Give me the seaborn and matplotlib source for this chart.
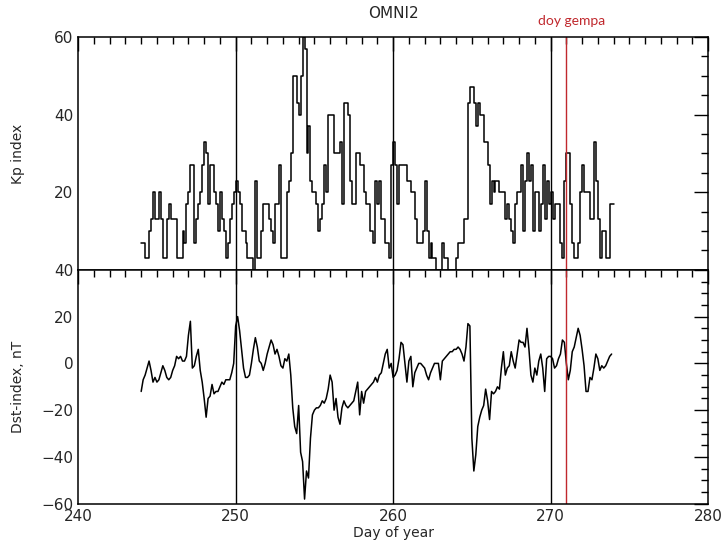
import matplotlib
matplotlib.use("Agg")
import matplotlib.pyplot as plt
from matplotlib.ticker import MultipleLocator, FuncFormatter
import numpy as np
import pandas as pd
import seaborn as sns

# 3-hourly samples, day-of-year 244.0 .. 273.875
DAY_START = 244
PER_DAY = 8

KP = [
    7, 7, 3, 3, 10, 13, 20, 13,        # 244
    13, 20, 13, 3, 3, 13, 17, 13,      # 245
    13, 13, 3, 3, 3, 10, 7, 17,        # 246
    20, 27, 27, 7, 13, 17, 20, 27,     # 247
    33, 30, 17, 27, 27, 20, 17, 10,    # 248
    20, 13, 10, 3, 7, 13, 17, 20,      # 249
    23, 20, 17, 10, 10, 7, 3, 3,       # 250
    3, 0, 23, 3, 3, 10, 17, 17,        # 251
    17, 13, 10, 7, 17, 17, 27, 3,      # 252
    3, 3, 20, 23, 30, 50, 50, 43,      # 253
    40, 50, 60, 57, 30, 37, 23, 20,    # 254
    20, 17, 10, 13, 17, 27, 20, 40,    # 255
    40, 40, 30, 30, 30, 33, 17, 43,    # 256
    43, 40, 23, 17, 17, 30, 30, 27,    # 257
    27, 20, 17, 17, 10, 10, 7, 23,     # 258
    17, 23, 13, 13, 7, 7, 3, 27,       # 259
    33, 27, 17, 27, 27, 27, 27, 23,    # 260
    23, 20, 20, 13, 7, 7, 7, 10,       # 261
    23, 10, 3, 7, 3, 3, 0, 0,          # 262
    0, 7, 3, 3, 0, 0, 0, 0,            # 263
    3, 7, 7, 7, 13, 13, 43, 47,        # 264
    47, 43, 37, 43, 40, 40, 33, 33,    # 265
    27, 17, 23, 20, 23, 23, 20, 20,    # 266
    20, 13, 17, 13, 10, 7, 17, 20,     # 267
    20, 27, 10, 23, 30, 23, 27, 10,    # 268
    20, 20, 10, 17, 27, 13, 23, 17,    # 269
    20, 13, 17, 17, 17, 7, 3, 23,      # 270
    30, 30, 17, 7, 3, 3, 7, 20,        # 271
    27, 20, 20, 20, 13, 13, 33, 23,    # 272
    13, 3, 10, 10, 3, 3, 17, 17,       # 273
]

DST = [
    -12, -7, -5, -2, 1, -3, -8, -6,          # 244
    -8, -7, -4, -1, -3, -6, -7, -6,          # 245
    -3, -1, 3, 2, 3, 1, 1, 3,                # 246
    12, 18, -2, -1, 3, 6, -3, -8,            # 247
    -15, -23, -15, -14, -9, -13, -12, -12,   # 248
    -10, -8, -9, -7, -7, -7, -4, 0,          # 249
    16, 20, 14, 6, -2, -6, -6, -5,           # 250
    0, 6, 11, 7, 1, 0, -3, 0,                # 251
    4, 7, 10, 8, 4, 6, 3, -1,                # 252
    -2, 2, 1, 4, -5, -19, -27, -30,          # 253
    -18, -38, -42, -58, -46, -49, -32, -22,  # 254
    -20, -19, -19, -18, -16, -17, -15, -11,  # 255
    -5, -8, -20, -15, -23, -26, -19, -16,    # 256
    -18, -19, -18, -17, -16, -12, -8, -22,   # 257
    -12, -17, -12, -11, -10, -9, -8, -6,     # 258
    -8, -5, -4, 0, 4, 6, -2, 0,              # 259
    -6, -5, -3, 2, 9, 8, 0, -8,              # 260
    1, 3, -10, -4, -2, 0, 0, -1,             # 261
    -2, -5, -7, -4, -2, 0, 0, 0,             # 262
    -7, 1, 2, 3, 4, 5, 5, 6,                 # 263
    6, 7, 6, 4, 1, 7, 17, 16,                # 264
    -32, -46, -39, -27, -23, -20, -18, -11,  # 265
    -16, -24, -12, -13, -12, -10, -11, -2,   # 266
    5, -5, -2, -1, 5, 1, -2, 4,              # 267
    10, 9, 9, 7, 15, 6, -5, -8,              # 268
    -2, -5, 1, 4, -2, -12, 2, 3,             # 269
    3, 2, -2, -1, 2, 4, 10, 9,               # 270
    0, -7, -3, 5, 7, 11, 15, 12,             # 271
    6, -1, -12, -12, -6, -7, -2, 4,          # 272
    2, -3, -1, -2, -1, 1, 3, 4,              # 273
]

MARK_DAYS = [250, 260, 270]
QUAKE_DAY = 271
QUAKE_LABEL = "doy gempa"
TITLE = "OMNI2"


def style_axis(ax, ymaj, ymin):
    ax.xaxis.set_major_locator(MultipleLocator(10))
    ax.xaxis.set_minor_locator(MultipleLocator(1))
    ax.yaxis.set_major_locator(MultipleLocator(ymaj))
    ax.yaxis.set_minor_locator(MultipleLocator(ymin))
    ax.tick_params(which="both", direction="in", top=True, right=True,
                   color="black", width=1.0, labelsize=11)
    ax.tick_params(which="major", length=10)
    ax.tick_params(which="minor", length=5)
    for sp in ax.spines.values():
        sp.set_linewidth(1.1)
        sp.set_color("black")
    ax.grid(False)
    for d in MARK_DAYS:
        ax.axvline(d, color="black", lw=1.0)
    ax.axvline(QUAKE_DAY, color="#c0282d", lw=1.0)


def main():
    sns.set_theme(style="white")
    plt.rcParams["font.family"] = ["DejaVu Sans"]

    day = DAY_START + np.arange(len(KP)) / PER_DAY
    kp = pd.DataFrame({"day": np.append(day, DAY_START + len(KP) / PER_DAY),
                       "kp": KP + [KP[-1]]})
    dst = pd.DataFrame({"day": DAY_START + np.arange(len(DST)) / PER_DAY, "dst": DST})

    fig = plt.figure(figsize=(7.24, 5.44), dpi=100)
    ax1 = fig.add_axes([0.108, 0.504, 0.870, 0.428])
    ax2 = fig.add_axes([0.108, 0.074, 0.870, 0.430], sharex=ax1)

    sns.lineplot(data=kp, x="day", y="kp", ax=ax1, color="black", lw=1.1,
                 drawstyle="steps-post", estimator=None)
    sns.lineplot(data=dst, x="day", y="dst", ax=ax2, color="black", lw=1.1,
                 estimator=None)

    ax1.set_xlim(240, 280)
    ax1.set_ylim(0, 60)
    ax2.set_ylim(-60, 40)
    style_axis(ax1, 20, 5)
    style_axis(ax2, 20, 5)
    ax1.tick_params(labelbottom=False)
    # the lower panel's "40" sits where the upper panel's "0" would be
    ax1.yaxis.set_major_formatter(FuncFormatter(lambda v, _: "" if v == 0 else f"{v:.0f}"))

    ax1.set_xlabel("")
    ax1.set_ylabel("Kp index", fontsize=10)
    ax2.set_ylabel("Dst-index, nT", fontsize=10)
    ax2.set_xlabel("Day of year", fontsize=10, labelpad=2)
    ax1.yaxis.set_label_coords(-0.085, 0.5)
    ax2.yaxis.set_label_coords(-0.085, 0.5)

    ax1.text(0.5, 1.10, TITLE, transform=ax1.transAxes, ha="center",
             va="center", fontsize=11)
    ax1.text(QUAKE_DAY + 0.3, 1.07, QUAKE_LABEL, transform=ax1.get_xaxis_transform(),
             ha="center", va="center", fontsize=10, color="#c0282d",
             family=["Lato", "DejaVu Sans"])

    fig.savefig("out.png", dpi=100)
    plt.close(fig)


if __name__ == "__main__":
    main()
